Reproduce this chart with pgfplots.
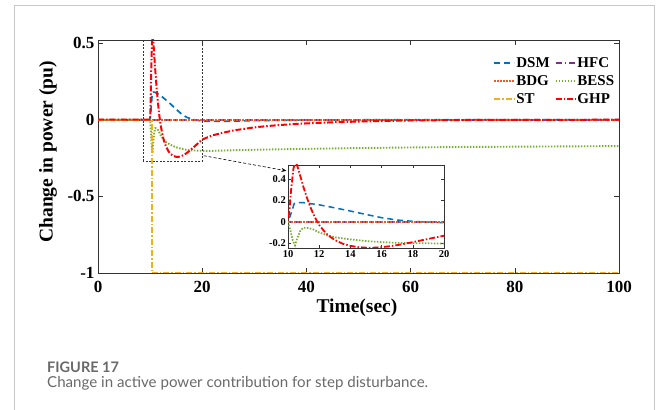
\documentclass[border=0pt]{standalone}
\usepackage{fontspec}
\setmainfont{Liberation Serif}
\newfontfamily\capfont{Lato}
\usepackage{pgfplots}
\usepackage{pgfplotstable}
\pgfplotsset{compat=1.18}
\usetikzlibrary{arrows.meta}
\definecolor{cDSM}{RGB}{0,114,189}
\definecolor{cHFC}{RGB}{126,47,142}
\definecolor{cBDG}{RGB}{240,90,40}
\definecolor{cBESS}{RGB}{119,172,48}
\definecolor{cST}{RGB}{237,177,32}
\definecolor{cGHP}{RGB}{255,0,0}
\definecolor{capgray}{RGB}{105,105,105}

\pgfplotstableread{
t v
0 0
10 0
10.2 0.08
10.4 0.17
10.6 0.18
11 0.178
12 0.158
13 0.13
14 0.1
15 0.068
16 0.038
17 0.016
18 0.004
19 -0.004
20 -0.008
22 -0.011
25 -0.01
30 -0.006
40 -0.002
60 0
100 0
}\dsm
\pgfplotstableread{
t v
0 0
100 0
}\hfc
\pgfplotstableread{
t v
0 0
100 0
}\bdg
\pgfplotstableread{
t v
0 0
10 0
10.15 -0.08
10.3 -0.17
10.45 -0.22
10.6 -0.15
10.8 -0.08
11 -0.055
11.3 -0.058
11.6 -0.07
12 -0.1
12.5 -0.125
13 -0.145
14 -0.165
15 -0.18
16 -0.19
17 -0.197
18 -0.2
20 -0.203
22 -0.203
25 -0.2
30 -0.196
40 -0.19
50 -0.185
60 -0.181
70 -0.178
80 -0.176
90 -0.174
100 -0.172
}\bess
\pgfplotstableread{
t v
0 0
10.3 0
10.3 -1
100 -1
}\st
\pgfplotstableread{
t v
0 0
10 0
10.1 0.12
10.2 0.3
10.35 0.5
10.5 0.56
10.6 0.52
10.8 0.42
11 0.32
11.2 0.23
11.4 0.15
11.6 0.08
11.8 0.02
12 -0.03
12.3 -0.085
12.6 -0.13
13 -0.17
13.5 -0.205
14 -0.225
14.5 -0.237
15 -0.242
15.5 -0.242
16 -0.237
16.5 -0.229
17 -0.218
17.5 -0.205
18 -0.19
18.5 -0.175
19 -0.16
19.5 -0.145
20 -0.13
21 -0.115
22 -0.102
24 -0.085
26 -0.07
28 -0.06
30 -0.05
33 -0.04
36 -0.032
40 -0.024
45 -0.017
50 -0.012
55 -0.008
60 -0.005
70 -0.002
80 -0.001
100 0
}\ghp

\tikzset{
  sDSM/.style={color=cDSM, line width=1.7bp, dash pattern=on 6bp off 4bp},
  sHFC/.style={color=cHFC, line width=1.7bp, dash pattern=on 6bp off 3bp on 1.5bp off 3bp},
  sBDG/.style={color=cBDG, line width=1.7bp, dash pattern=on 1.5bp off 1.5bp},
  sBESS/.style={color=cBESS, line width=1.9bp, dash pattern=on 1.5bp off 1.5bp},
  sST/.style={color=cST, line width=2bp, dash pattern=on 6bp off 2bp on 1.5bp off 2bp},
  sGHP/.style={color=cGHP, line width=2bp, dash pattern=on 6bp off 2bp on 1.5bp off 2bp},
}

\begin{document}
\begin{tikzpicture}
\path[use as bounding box] (0bp,0bp) rectangle (656bp,410bp);
\draw[black!22, line width=0.9bp] (14bp,-2bp) -- (14bp,405bp) -- (654bp,405bp) -- (654bp,-2bp);

\begin{axis}[
  name=main,
  at={(98bp,137bp)}, anchor=south west,
  scale only axis, width=521bp, height=233bp,
  xmin=0, xmax=100, ymin=-1, ymax=0.52,
  xtick={0,20,40,60,80,100}, xticklabels={0,20,40,60,80,100},
  ytick={-1,-0.5,0,0.5}, yticklabels={-1,-0.5,0,0.5},
  tick align=inside, major tick length=5bp,
  tick style={black!80, line width=0.6bp},
  axis line style={black!80, line width=0.8bp},
  ticklabel style={font=\fontsize{17bp}{20bp}\selectfont\bfseries},
  xticklabel style={yshift=-5bp},
  xlabel={Time(sec)}, ylabel={Change in power (pu)},
  label style={font=\fontsize{19.5bp}{22bp}\selectfont\bfseries},
  xlabel style={at={(axis description cs:0.497,0)}, anchor=center, yshift=-35bp},
  ylabel style={at={(axis description cs:-0.096,0.52)}, anchor=center},
  clip mode=individual,
  legend columns=2,
  legend cell align=left,
  legend style={at={(axis description cs:0.993,0.93)}, anchor=north east,
    draw=none, fill=none, inner sep=0bp, row sep=4.5bp,
    font=\fontsize{15bp}{18bp}\selectfont\bfseries,
    nodes={inner sep=1bp},
    /tikz/every even column/.append style={column sep=4bp}},
  legend image code/.code={\draw[#1, line width=1.8bp] (0bp,0bp) -- (20bp,0bp);},
]
\addplot[sDSM] table[x=t,y=v]{\dsm}; \addlegendentry{DSM}
\addplot[sHFC] table[x=t,y=v]{\hfc}; \addlegendentry{HFC}
\addplot[sBDG] table[x=t,y=v]{\bdg}; \addlegendentry{BDG}
\addplot[sBESS] table[x=t,y=v]{\bess}; \addlegendentry{BESS}
\addplot[sST] table[x=t,y=v]{\st}; \addlegendentry{ST}
\addplot[sGHP] table[x=t,y=v]{\ghp}; \addlegendentry{GHP}
\draw[black!80, line width=0.6bp, dash pattern=on 2bp off 1.5bp] (axis cs:8.6,-0.27) rectangle (axis cs:20.1,0.52);
\coordinate (boxcorner) at (axis cs:20.3,-0.235);
\end{axis}

\begin{axis}[
  name=inset,
  at={(288bp,162bp)}, anchor=south west,
  scale only axis, width=156bp, height=83bp,
  xmin=10, xmax=20, ymin=-0.245, ymax=0.53,
  xtick={10,12,14,16,18,20}, xticklabels={10,12,14,16,18,20},
  ytick={-0.2,0,0.2,0.4}, yticklabels={-0.2,0,0.2,0.4},
  tick align=inside, major tick length=3bp,
  tick style={black!80, line width=0.5bp},
  axis line style={black!80, line width=0.7bp},
  axis background/.style={fill=white},
  ticklabel style={font=\fontsize{10.5bp}{12bp}\selectfont\bfseries},
  xticklabel style={inner sep=2bp},
  yticklabel style={inner sep=2bp},
]
\addplot[sDSM, line width=1.5bp] table[x=t,y=v]{\dsm};
\addplot[sHFC, line width=1.5bp] table[x=t,y=v]{\hfc};
\addplot[sBDG, line width=1.5bp] table[x=t,y=v]{\bdg};
\addplot[sBESS, line width=1.7bp] table[x=t,y=v]{\bess};
\addplot[sGHP, line width=1.8bp] table[x=t,y=v]{\ghp};
\coordinate (insettl) at (rel axis cs:-0.01,0.93);
\end{axis}

\draw[black, line width=0.6bp, dash pattern=on 3bp off 2bp, -{Stealth[length=5bp,width=4bp]}] (boxcorner) -- (insettl);

\node[anchor=base west, inner sep=0bp, text=capgray, font=\capfont\fontsize{14.5bp}{17bp}\selectfont\bfseries] at (47bp,38bp) {FIGURE 17};
\node[anchor=base west, inner sep=0bp, text=capgray, font=\capfont\fontsize{15.1bp}{18bp}\selectfont] at (47bp,23bp) {Change in active power contribution for step disturbance.};
\end{tikzpicture}
\end{document}
